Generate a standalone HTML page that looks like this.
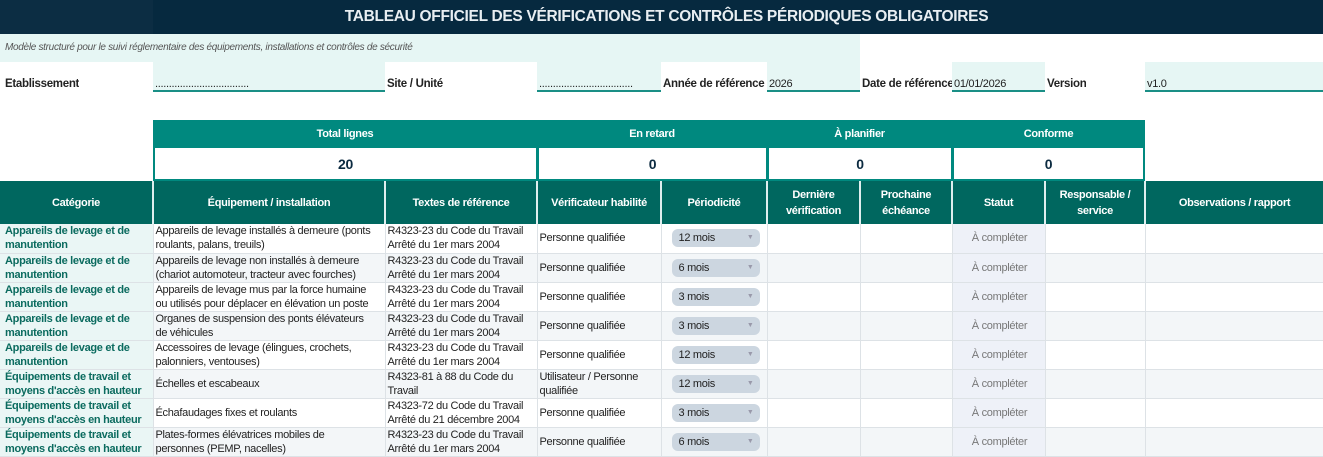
<!DOCTYPE html>
<html><head><meta charset="utf-8"><style>
*{box-sizing:border-box;margin:0;padding:0}
body{width:1323px;height:456px;overflow:hidden;background:#fff;font-family:"Liberation Sans",sans-serif;font-size:11px;color:#222;position:relative;letter-spacing:-0.3px}
.a{position:absolute}
.title{left:0;top:0;width:1323px;height:34px;background:#06293f;color:#e8eef2;font-weight:bold;font-size:15.5px;text-align:center;line-height:34px;padding-left:10px}
.tl{left:0;top:0;width:153px;height:34px;background:#0c2d43}
.sub{left:0;top:34px;width:860px;height:28px;background:#e6f6f4;font-style:italic;color:#555;font-size:10px;line-height:28px;padding-left:5px}
.lab{top:78px;font-weight:bold;font-size:11.5px;white-space:nowrap;overflow:hidden}
.inp{top:62px;height:30px;background:#e6f6f4;border-bottom:2px solid #1a8f86;font-size:11px;padding:16px 0 0 2px;white-space:nowrap;overflow:hidden}
.kh{top:120px;height:28px;background:#00897f;color:#fff;font-weight:bold;text-align:center;line-height:28px;font-size:11px}
.kv{top:148px;height:33px;background:#fff;border:2px solid #00897f;border-top:none;color:#0b2a40;font-weight:bold;font-size:14px;text-align:center;line-height:32px}
table{position:absolute;left:0;top:181px;border-collapse:collapse;table-layout:fixed;width:1323px}
th{background:#00675f;color:#fff;font-weight:bold;font-size:11px;height:43px;border-left:2px solid #dfeeee;text-align:center;line-height:16px}
th:first-child{border-left:none}
td{height:29px;border-right:1px solid #dde2e6;border-bottom:1px solid #dde2e6;white-space:nowrap;overflow:hidden;vertical-align:middle;padding-left:2px;line-height:14px;font-size:11px}
td.c{background:#eaf6f5;color:#0b6b5f;font-weight:bold;padding-left:5px}
tr.alt td{background:#f3f6f8}
tr.alt td.c{background:#eaf6f5}
td.s{background:#eef1f8!important;color:#777;text-align:center}
.p{display:inline-block;width:88px;height:18px;background:#ccd6e0;border-radius:6px;line-height:18px;padding-left:7px;margin-left:8px;position:relative;color:#222}
.p:after{content:"▼";position:absolute;right:6px;top:0;font-size:7px;color:#99a}
</style></head><body>
<div class="a title">TABLEAU OFFICIEL DES VÉRIFICATIONS ET CONTRÔLES PÉRIODIQUES OBLIGATOIRES</div>
<div class="a tl"></div>
<div class="a sub">Modèle structuré pour le suivi réglementaire des équipements, installations et contrôles de sécurité</div>
<div class="a lab" style="left:5px">Établissement</div>
<div class="a inp" style="left:153px;width:232px">..................................</div>
<div class="a lab" style="left:387px">Site / Unité</div>
<div class="a inp" style="left:537px;width:124px">..................................</div>
<div class="a lab" style="left:663px;width:104px">Année de référence</div>
<div class="a inp" style="left:767px;width:93px">2026</div>
<div class="a lab" style="left:862px;width:90px">Date de référence</div>
<div class="a inp" style="left:952px;width:93px">01/01/2026</div>
<div class="a lab" style="left:1047px">Version</div>
<div class="a inp" style="left:1145px;width:178px">v1.0</div>
<div class="a kh" style="left:153px;width:384px">Total lignes</div>
<div class="a kh" style="left:537px;width:230px">En retard</div>
<div class="a kh" style="left:767px;width:185px">À planifier</div>
<div class="a kh" style="left:952px;width:193px">Conforme</div>
<div class="a kv" style="left:153px;width:385px">20</div>
<div class="a kv" style="left:537px;width:231px">0</div>
<div class="a kv" style="left:767px;width:186px">0</div>
<div class="a kv" style="left:952px;width:193px">0</div>
<table>
<colgroup><col style="width:153px"><col style="width:232px"><col style="width:152px"><col style="width:124px"><col style="width:106px"><col style="width:93px"><col style="width:92px"><col style="width:93px"><col style="width:100px"><col style="width:178px"></colgroup>
<tr><th>Catégorie</th><th>Équipement / installation</th><th>Textes de référence</th><th>Vérificateur habilité</th><th>Périodicité</th><th>Dernière<br>vérification</th><th>Prochaine<br>échéance</th><th>Statut</th><th>Responsable /<br>service</th><th>Observations / rapport</th></tr>
<tr><td class="c">Appareils de levage et de<br>manutention</td><td>Appareils de levage installés à demeure (ponts<br>roulants, palans, treuils)</td><td>R4323-23 du Code du Travail<br>Arrêté du 1er mars 2004</td><td>Personne qualifiée</td><td><span class="p">12 mois</span></td><td></td><td></td><td class="s">À compléter</td><td></td><td></td></tr>
<tr class="alt"><td class="c">Appareils de levage et de<br>manutention</td><td>Appareils de levage non installés à demeure<br>(chariot automoteur, tracteur avec fourches)</td><td>R4323-23 du Code du Travail<br>Arrêté du 1er mars 2004</td><td>Personne qualifiée</td><td><span class="p">6 mois</span></td><td></td><td></td><td class="s">À compléter</td><td></td><td></td></tr>
<tr><td class="c">Appareils de levage et de<br>manutention</td><td>Appareils de levage mus par la force humaine<br>ou utilisés pour déplacer en élévation un poste</td><td>R4323-23 du Code du Travail<br>Arrêté du 1er mars 2004</td><td>Personne qualifiée</td><td><span class="p">3 mois</span></td><td></td><td></td><td class="s">À compléter</td><td></td><td></td></tr>
<tr class="alt"><td class="c">Appareils de levage et de<br>manutention</td><td>Organes de suspension des ponts élévateurs<br>de véhicules</td><td>R4323-23 du Code du Travail<br>Arrêté du 1er mars 2004</td><td>Personne qualifiée</td><td><span class="p">3 mois</span></td><td></td><td></td><td class="s">À compléter</td><td></td><td></td></tr>
<tr><td class="c">Appareils de levage et de<br>manutention</td><td>Accessoires de levage (élingues, crochets,<br>palonniers, ventouses)</td><td>R4323-23 du Code du Travail<br>Arrêté du 1er mars 2004</td><td>Personne qualifiée</td><td><span class="p">12 mois</span></td><td></td><td></td><td class="s">À compléter</td><td></td><td></td></tr>
<tr class="alt"><td class="c">Équipements de travail et<br>moyens d'accès en hauteur</td><td>Échelles et escabeaux</td><td>R4323-81 à 88 du Code du<br>Travail</td><td>Utilisateur / Personne<br>qualifiée</td><td><span class="p">12 mois</span></td><td></td><td></td><td class="s">À compléter</td><td></td><td></td></tr>
<tr><td class="c">Équipements de travail et<br>moyens d'accès en hauteur</td><td>Échafaudages fixes et roulants</td><td>R4323-72 du Code du Travail<br>Arrêté du 21 décembre 2004</td><td>Personne qualifiée</td><td><span class="p">3 mois</span></td><td></td><td></td><td class="s">À compléter</td><td></td><td></td></tr>
<tr class="alt"><td class="c">Équipements de travail et<br>moyens d'accès en hauteur</td><td>Plates-formes élévatrices mobiles de<br>personnes (PEMP, nacelles)</td><td>R4323-23 du Code du Travail<br>Arrêté du 1er mars 2004</td><td>Personne qualifiée</td><td><span class="p">6 mois</span></td><td></td><td></td><td class="s">À compléter</td><td></td><td></td></tr>
</table>
</body></html>
